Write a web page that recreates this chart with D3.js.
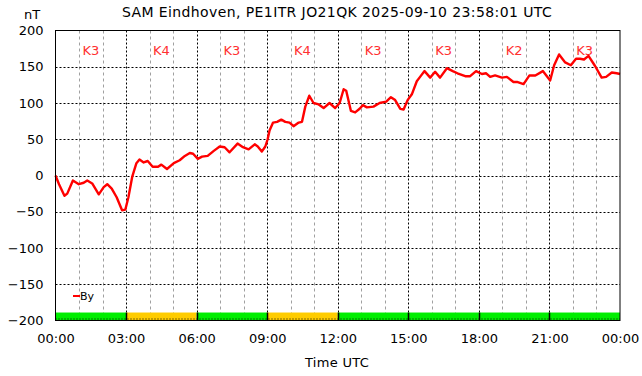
<!DOCTYPE html>
<html>
<head>
<meta charset="utf-8">
<script src="https://cdn.jsdelivr.net/npm/d3@7"></script>
<style>
  body { margin: 0; background: #fff; }
  svg { display: block; font-family: "DejaVu Sans", sans-serif; }
</style>
</head>
<body>
<div id="chart"></div>
<script>
// By component (nT) vs. time of day (hours UTC)
const hours = [
  0.00, 0.15, 0.38, 0.50, 0.74, 0.99, 1.20, 1.35, 1.56, 1.84, 2.05, 2.20, 2.39, 2.60, 2.83, 2.97,
  3.10, 3.26, 3.44, 3.57, 3.75, 3.92, 4.13, 4.36, 4.50, 4.74, 5.03, 5.28, 5.50, 5.71, 5.85,
  6.05, 6.23, 6.47, 6.73, 6.98, 7.19, 7.40, 7.74, 7.97, 8.21, 8.47, 8.60, 8.77, 8.92,
  9.02, 9.10, 9.25, 9.42, 9.60, 9.77, 9.95, 10.12, 10.34, 10.48, 10.62, 10.79, 10.97, 11.19, 11.40, 11.65, 11.89,
  12.08, 12.25, 12.36, 12.56, 12.74, 12.93, 13.07, 13.24, 13.52, 13.78, 14.06, 14.26, 14.44, 14.66, 14.80, 14.97,
  15.15, 15.36, 15.50, 15.69, 15.93, 16.14, 16.35, 16.64, 16.89, 17.09, 17.42, 17.63, 17.88,
  18.13, 18.31, 18.48, 18.69, 18.98, 19.19, 19.47, 19.62, 19.90, 20.15, 20.40, 20.72,
  21.03, 21.20, 21.41, 21.67, 21.91, 22.13, 22.30, 22.47, 22.66, 22.94, 23.22, 23.41, 23.65, 23.86, 24.00
];
const byValues = [
  0, -12, -28, -25, -7, -12, -10, -7, -11, -26, -16, -12, -18, -30, -48, -47,
  -30, -2, 17, 22, 18, 20, 12, 12, 15, 9, 17, 21, 27, 31, 30,
  23, 26, 27, 34, 40, 39, 32, 44, 39, 36, 43, 40, 33, 40,
  50, 62, 73, 74, 77, 74, 73, 68, 73, 74, 95, 110, 100, 98, 93, 100, 93,
  100, 119, 117, 89, 87, 92, 97, 94, 95, 100, 102, 108, 104, 92, 91, 104,
  112, 130, 136, 144, 135, 143, 135, 148, 144, 141, 137, 137, 144,
  140, 141, 136, 138, 135, 136, 129, 129, 126, 138, 138, 144,
  131, 152, 167, 156, 152, 161, 161, 160, 165, 151, 135, 136, 142, 141, 140
];

// K-index per 3-hour block
const kLabels = ["K3", "K4", "K3", "K4", "K3", "K3", "K2", "K3"];
const kValues = [3, 4, 3, 4, 3, 3, 2, 3];

// Axis ticks
const yTicks = [200, 150, 100, 50, 0, -50, -100, -150, -200];
const xTicks = [0, 3, 6, 9, 12, 15, 18, 21, 24];
const xTickLabels = ["00:00", "03:00", "06:00", "09:00", "12:00", "15:00", "18:00", "21:00", "00:00"];

const width = 642;
const height = 376;
const margin = { top: 30.5, right: 22, bottom: 55.5, left: 55.5 };

const svg = d3.select("#chart")
  .append("svg")
  .attr("width", width)
  .attr("height", height);

const x = d3.scaleLinear().domain([0, 24]).range([margin.left, width - margin.right]);
const y = d3.scaleLinear().domain([-200, 200]).range([height - margin.bottom, margin.top]);

// minor vertical grid (every hour)
svg.append("g")
  .selectAll("line")
  .data(d3.range(1, 24).filter(h => h % 3 !== 0))
  .enter()
  .append("line")
  .attr("x1", d => Math.round(x(d)) + 0.5)
  .attr("x2", d => Math.round(x(d)) + 0.5)
  .attr("y1", y(200))
  .attr("y2", y(-200))
  .attr("stroke", "#a0a0a0")
  .attr("stroke-dasharray", "3,3");

// major vertical grid
svg.append("g")
  .selectAll("line")
  .data(xTicks.slice(1, -1))
  .enter()
  .append("line")
  .attr("x1", d => Math.round(x(d)) + 0.5)
  .attr("x2", d => Math.round(x(d)) + 0.5)
  .attr("y1", y(200))
  .attr("y2", y(-200))
  .attr("stroke", "#000")
  .attr("stroke-dasharray", "2,2");

// horizontal grid
svg.append("g")
  .selectAll("line")
  .data(yTicks.slice(1, -1))
  .enter()
  .append("line")
  .attr("x1", x(0))
  .attr("x2", x(24))
  .attr("y1", d => Math.round(y(d)) + 0.5)
  .attr("y2", d => Math.round(y(d)) + 0.5)
  .attr("stroke", "#000")
  .attr("stroke-dasharray", "2,2");

// K-index bar at the bottom
const kColor = k => k >= 4 ? "#ffcc00" : "#00ee00";
svg.append("g")
  .selectAll("rect")
  .data(kValues)
  .enter()
  .append("rect")
  .attr("x", (d, i) => x(i * 3))
  .attr("y", y(-189))
  .attr("width", x(3) - x(0))
  .attr("height", y(-200) - y(-189))
  .attr("fill", d => kColor(d));

svg.append("g")
  .selectAll("line")
  .data(xTicks.slice(1, -1))
  .enter()
  .append("line")
  .attr("x1", d => Math.round(x(d)) + 0.5)
  .attr("x2", d => Math.round(x(d)) + 0.5)
  .attr("y1", y(-189))
  .attr("y2", y(-200))
  .attr("stroke", "#000")
  .attr("stroke-width", 1.5);

svg.append("line")
  .attr("x1", x(0))
  .attr("x2", x(24))
  .attr("y1", y(-200) - 1.5)
  .attr("y2", y(-200) - 1.5)
  .attr("stroke", "#000")
  .attr("stroke-dasharray", "1,2");

// K labels
svg.append("g")
  .selectAll("text")
  .data(kLabels)
  .enter()
  .append("text")
  .attr("x", (d, i) => x(i * 3 + 1.5))
  .attr("y", 55)
  .attr("text-anchor", "middle")
  .attr("fill", "#ff3030")
  .style("font-size", "13px")
  .text(d => d);

// data line
const line = d3.line()
  .x((d, i) => x(hours[i]))
  .y(d => y(d));

svg.append("path")
  .datum(byValues)
  .attr("d", line)
  .attr("fill", "none")
  .attr("stroke", "#ff0000")
  .attr("stroke-width", 2.4)
  .attr("stroke-linejoin", "round");

// plot border
svg.append("rect")
  .attr("x", x(0))
  .attr("y", y(200))
  .attr("width", x(24) - x(0))
  .attr("height", y(-200) - y(200))
  .attr("fill", "none")
  .attr("stroke", "#000");

// axes (labels only)
const yAxis = svg.append("g")
  .attr("transform", `translate(${x(0) - 12},0)`)
  .call(d3.axisLeft(y).tickValues(yTicks).tickSize(0));
yAxis.select(".domain").remove();
yAxis.selectAll("text")
  .attr("x", 0)
  .attr("fill", "#000")
  .style("font-size", "13px")
  .style("font-family", "DejaVu Sans");

const xAxis = svg.append("g")
  .attr("transform", `translate(0,${y(-200) + 10})`)
  .call(d3.axisBottom(x).tickValues(xTicks).tickFormat((d, i) => xTickLabels[i]).tickSize(0));
xAxis.select(".domain").remove();
xAxis.selectAll("text")
  .attr("fill", "#000")
  .style("font-size", "13px")
  .style("font-family", "DejaVu Sans");

// titles
svg.append("text")
  .attr("x", 337)
  .attr("y", 17)
  .attr("text-anchor", "middle")
  .style("font-size", "14px")
  .style("letter-spacing", "0.4px")
  .text("SAM Eindhoven, PE1ITR JO21QK 2025-09-10 23:58:01 UTC");

svg.append("text")
  .attr("x", 32)
  .attr("y", 19)
  .attr("text-anchor", "middle")
  .style("font-size", "13px")
  .text("nT");

svg.append("text")
  .attr("x", 337)
  .attr("y", 367)
  .attr("text-anchor", "middle")
  .style("font-size", "13px")
  .style("letter-spacing", "0.3px")
  .text("Time UTC");

// legend
svg.append("line")
  .attr("x1", 73)
  .attr("x2", 80)
  .attr("y1", 296)
  .attr("y2", 296)
  .attr("stroke", "#ff0000")
  .attr("stroke-width", 2);

svg.append("text")
  .attr("x", 80)
  .attr("y", 300)
  .style("font-size", "11px")
  .text("By");
</script>
</body>
</html>
